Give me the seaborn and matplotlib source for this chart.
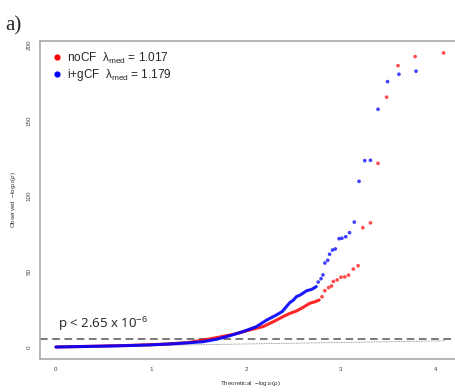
import matplotlib
matplotlib.use("Agg")
import matplotlib.pyplot as plt
import seaborn as sns
import pandas as pd
import numpy as np
from matplotlib.lines import Line2D

# ---- data ----
nocf_dense_x = [0, 0.2, 0.4, 0.6, 0.8, 1.0, 1.2, 1.4, 1.55, 1.69, 1.87, 2.04, 2.18, 2.29,
                2.39, 2.46, 2.53, 2.60, 2.67, 2.73, 2.77]
nocf_dense_y = [0, 0.25, 0.5, 0.8, 1.1, 1.5, 2.1, 3.0, 4.6, 6.2, 8.4, 11.3, 13.5, 16.8,
                20.1, 22.2, 23.8, 26.2, 28.9, 30.0, 31.1]
nocf_sparse_x = [2.80, 2.83, 2.87, 2.90, 2.92, 2.96, 3.00, 3.04, 3.08, 3.13, 3.18, 3.23,
                 3.31, 3.39, 3.48, 3.60, 3.78, 4.08]
nocf_sparse_y = [33.3, 37.3, 39.3, 40.4, 43.4, 44.4, 46.2, 46.4, 47.6, 51.6, 53.8, 79.0,
                 82.2, 121.6, 165.4, 186.3, 192.3, 194.7]

igcf_dense_x = [0, 0.2, 0.4, 0.6, 0.8, 1.0, 1.2, 1.4, 1.55, 1.69, 1.83, 1.97, 2.11, 2.22,
                2.32, 2.38, 2.41, 2.46, 2.50, 2.53, 2.57, 2.64, 2.69, 2.74]
igcf_dense_y = [0, 0.2, 0.45, 0.7, 1.0, 1.4, 2.0, 2.8, 3.5, 5.1, 7.5, 10.2, 13.5, 17.9,
                21.2, 23.4, 25.6, 29.3, 31.1, 33.3, 34.4, 37.3, 38.1, 40.0]
igcf_sparse_x = [2.76, 2.79, 2.81, 2.83, 2.86, 2.88, 2.91, 2.94, 2.98, 3.01, 3.05, 3.09,
                 3.14, 3.19, 3.25, 3.31, 3.39, 3.49, 3.61, 3.79]
igcf_sparse_y = [43.0, 45.2, 47.7, 55.6, 57.4, 61.4, 64.2, 64.9, 71.7, 72.0, 73.0, 75.7,
                 82.7, 109.7, 123.4, 123.6, 157.4, 175.7, 180.6, 182.6]

series_labels = ["noCF  λ$_{\\mathrm{med}}$ = 1.017",
                 "i+gCF  λ$_{\\mathrm{med}}$ = 1.179"]
series_colors = ["#ff0000", "#0000ff"]
threshold_p = 2.65e-6
threshold_label = r"p < 2.65 x 10$^{-6}$"
x_ticks = [0, 1, 2, 3, 4]
y_ticks = [0, 50, 100, 150, 200]

# ---- figure ----
sns.set_style("white")
plt.rcParams['font.family'] = ['Liberation Sans', 'DejaVu Sans']
plt.rcParams['mathtext.fontset'] = 'custom'
plt.rcParams['mathtext.rm'] = 'Liberation Sans'
plt.rcParams['mathtext.it'] = 'Liberation Sans:italic'

fig = plt.figure(figsize=(4.56, 3.92), dpi=100)
ax = fig.add_axes([40 / 456, 33 / 392, 421 / 456, 318 / 392])

thr = -np.log10(threshold_p)

# null line y = x (dotted)
ax.plot([0, 4.1], [0, 4.1], color="#777777", lw=0.6, ls=(0, (1, 1)), zorder=1)
# threshold dashed line
ax.axhline(thr, color="#555555", lw=1.1, ls=(0, (5, 3)), zorder=1)

d1 = pd.DataFrame({"x": nocf_dense_x, "y": nocf_dense_y})
d2 = pd.DataFrame({"x": igcf_dense_x, "y": igcf_dense_y})
s1 = pd.DataFrame({"x": nocf_sparse_x, "y": nocf_sparse_y})
s2 = pd.DataFrame({"x": igcf_sparse_x, "y": igcf_sparse_y})

sns.lineplot(data=d1, x="x", y="y", ax=ax, color=series_colors[0], lw=2.2,
             alpha=0.85, sort=False, zorder=2)
sns.scatterplot(data=s1, x="x", y="y", ax=ax, color=series_colors[0], s=7,
                alpha=0.7, edgecolor="none", zorder=2)
sns.lineplot(data=d2, x="x", y="y", ax=ax, color=series_colors[1], lw=2.2,
             alpha=0.9, sort=False, zorder=3)
sns.scatterplot(data=s2, x="x", y="y", ax=ax, color=series_colors[1], s=7,
                alpha=0.75, edgecolor="none", zorder=3)

ax.set_xlim(-0.168, 4.263)
ax.set_ylim(-7.95, 202.6)
ax.set_xticks(x_ticks)
ax.set_yticks(y_ticks)
ax.tick_params(axis="both", labelsize=4.5, colors="#444444", length=3.5,
               width=0.8, direction="out", pad=2.5)
ax.tick_params(axis="both", color="#999999")
for lab in ax.get_yticklabels():
    lab.set_rotation(90)
    lab.set_va("center")
for side in ["left", "bottom", "top"]:
    ax.spines[side].set_color("#aaaaaa")
    ax.spines[side].set_linewidth(1.2)
ax.spines["right"].set_visible(False)

ax.set_xlabel(r"Theoretical  $-\mathrm{log}_{10}(\mathit{p})$", fontsize=4.5,
              color="#333333", labelpad=5)
ax.set_ylabel(r"Observed  $-\mathrm{log}_{10}(\mathit{p})$", fontsize=4.5,
              color="#333333", labelpad=6)

ax.text(0.02, thr + 4, threshold_label, fontsize=9.5, color="#222222",
        family=["Open Sans", "DejaVu Sans"], ha="left", va="bottom")

handles = [Line2D([], [], ls="none", marker="o", markersize=4.5,
                  markerfacecolor=c, markeredgecolor="none") for c in series_colors]
leg = ax.legend(handles, series_labels, loc="upper left", frameon=False,
                fontsize=8.5, handletextpad=0.3, labelspacing=0.15,
                borderaxespad=0.4, handlelength=1.2, bbox_to_anchor=(0.0, 1.0))

fig.text(5 / 456, 1 - 30 / 392, "a)", fontsize=15, family=["Liberation Serif"],
         ha="left", va="baseline")

fig.savefig("out.png", dpi=100)
